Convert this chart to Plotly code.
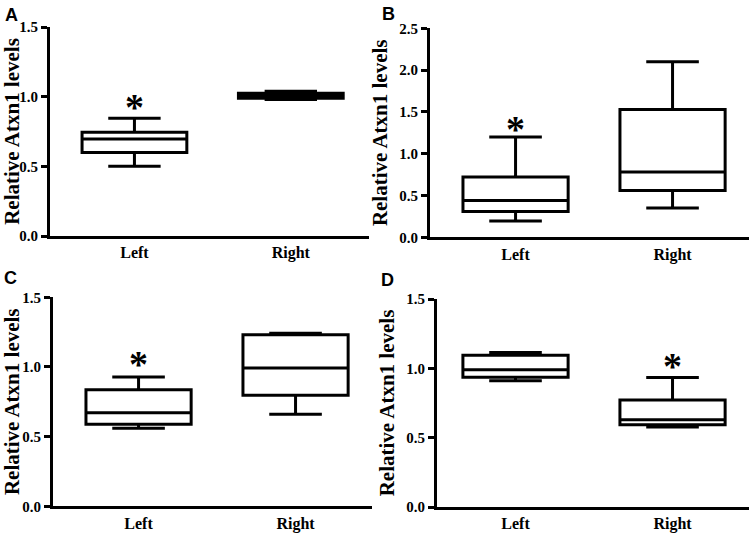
import plotly.graph_objects as go

categories = ["Left", "Right"]
panel_labels = ["A", "B", "C", "D"]

# box statistics per panel: [Left, Right]
lower_whisker = [[0.50, 0.98],  [0.195, 0.35], [0.56, 0.66],   [0.91, 0.577]]
q1_vals       = [[0.60, 0.988], [0.31, 0.56],  [0.589, 0.797], [0.935, 0.594]]
median_vals   = [[0.696, 1.005], [0.44, 0.78], [0.672, 0.993], [0.99, 0.63]]
q3_vals       = [[0.744, 1.024], [0.72, 1.53], [0.837, 1.232], [1.094, 0.772]]
upper_whisker = [[0.845, 1.038], [1.20, 2.10], [0.928, 1.242], [1.115, 0.933]]

y_max = [1.5, 2.5, 1.5, 1.5]
y_ticks = [[0.0, 0.5, 1.0, 1.5], [0.0, 0.5, 1.0, 1.5, 2.0, 2.5],
           [0.0, 0.5, 1.0, 1.5], [0.0, 0.5, 1.0, 1.5]]
star_category = ["Left", "Left", "Left", "Right"]
star_y = [0.965, 1.355, 1.06, 1.055]

y_title = "Relative Atxn1 levels"

W, H = 754, 535
# pixel boxes for axes: (x0, x1, ytop, ybottom)
pix = [(50, 369, 27, 236), (430, 749, 28.3, 237.3),
       (53, 372, 297.3, 506.3), (437, 749, 299, 507)]
x_ranges = [[-0.54, 1.5], [-0.545, 1.487], [-0.545, 1.487], [-0.5, 1.487]]
letter_pos = [(3, 3), (380, 2), (2, 266), (379, 268)]

fig = go.Figure()
serif = "Liberation Serif"
for i in range(4):
    xa = "x" if i == 0 else f"x{i+1}"
    ya = "y" if i == 0 else f"y{i+1}"
    for j, cat in enumerate(categories):
        fig.add_trace(go.Box(
            x=[cat], q1=[q1_vals[i][j]], median=[median_vals[i][j]], q3=[q3_vals[i][j]],
            lowerfence=[lower_whisker[i][j]], upperfence=[upper_whisker[i][j]],
            xaxis=xa, yaxis=ya, width=0.67, whiskerwidth=0.5,
            line=dict(color="black", width=3), fillcolor="white",
            boxpoints=False, showlegend=False, hoverinfo="skip"))
    x0, x1, yt, yb = pix[i]
    xk = "xaxis" if i == 0 else f"xaxis{i+1}"
    yk = "yaxis" if i == 0 else f"yaxis{i+1}"
    fig.layout[xk] = dict(
        domain=[x0 / W, x1 / W], anchor=ya, type="category",
        categoryorder="array", categoryarray=categories, automargin=False,
        range=x_ranges[i], showline=True, linecolor="black", linewidth=3,
        ticks="", showgrid=False, zeroline=False,
        tickfont=dict(family=serif, size=16, color="black", weight="bold"),
        fixedrange=True)
    fig.layout[yk] = dict(
        domain=[1 - yb / H, 1 - yt / H], anchor=xa, range=[0, y_max[i]],
        automargin=False,
        tickvals=y_ticks[i], tickformat=".1f", showline=True, linecolor="black",
        linewidth=3, ticks="outside", ticklen=6, tickwidth=3, tickcolor="black",
        showgrid=False, zeroline=False,
        tickfont=dict(family=serif, size=15, color="black", weight="bold"),
        title=dict(text=y_title, standoff=6,
                   font=dict(family=serif, size=21, color="black", weight="bold")),
        fixedrange=True)
    fig.add_annotation(x=star_category[i], y=star_y[i], xref=xa, yref=ya,
                       text="*", showarrow=False, yanchor="middle", yshift=-5,
                       font=dict(family=serif, size=38, color="black", weight="bold"))
    lx, ly = letter_pos[i]
    fig.add_annotation(x=lx / W, y=1 - ly / H, xref="paper", yref="paper",
                       xanchor="left", yanchor="top", text=panel_labels[i],
                       showarrow=False,
                       font=dict(family="Liberation Sans", size=18, color="black",
                                 weight="bold"))

fig.update_layout(width=W, height=H, margin=dict(l=0, r=0, t=0, b=0),
                  paper_bgcolor="white", plot_bgcolor="white")
fig.write_html("out.html", config={"displayModeBar": False},
               post_script="document.body.style.margin='0px';"
                           "document.body.style.overflow='hidden';")
